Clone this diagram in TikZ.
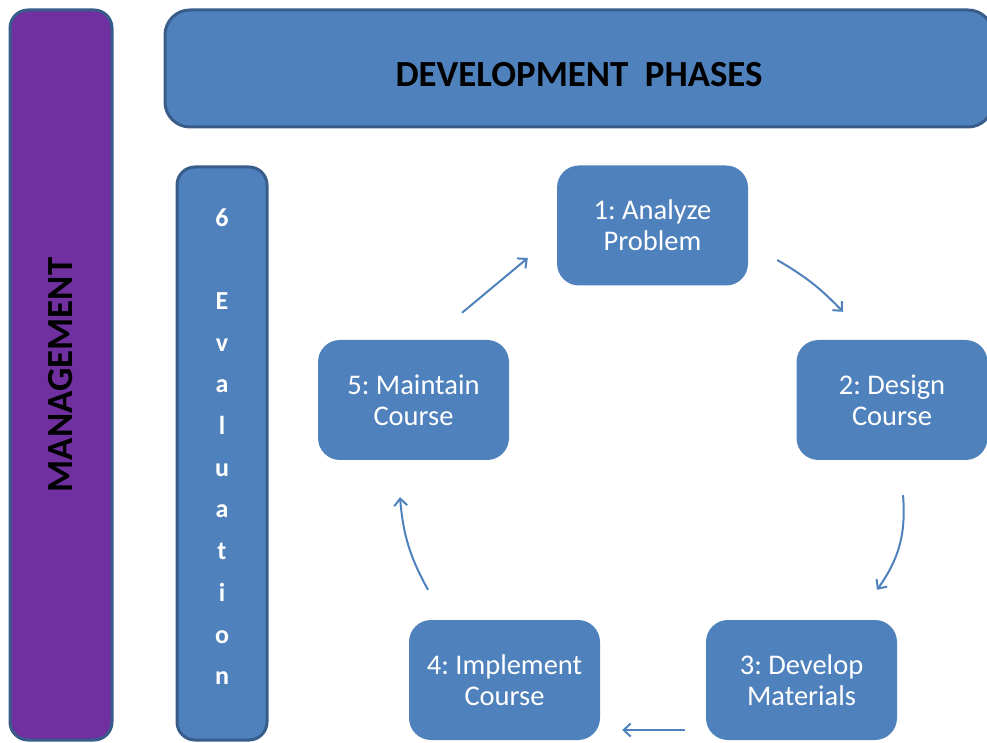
\documentclass[tikz,border=0pt]{standalone}
\usepackage{fontspec}
\setmainfont{Carlito}
\usetikzlibrary{arrows.meta}
\frenchspacing

\definecolor{phaseblue}{HTML}{4F81BD}
\definecolor{edgeblue}{HTML}{385D8A}
\definecolor{mgmtpurple}{HTML}{7030A0}

\tikzstyle{phase} = [
    rectangle,
    rounded corners=22pt,
    minimum width=191pt,
    minimum height=120pt,
    align=center,
    fill=phaseblue,
    text=white,
    font=\fontsize{28.5}{31}\selectfont
]
\tikzstyle{bar} = [
    rectangle,
    rounded corners=18pt,
    draw=edgeblue,
    line width=3pt,
    inner sep=0pt,
    font=\bfseries\fontsize{36.8}{40}\selectfont
]
\tikzstyle{arrow} = [
    line width=2pt,
    draw=phaseblue,
    -{Straight Barb[length=7pt,width=13pt]}
]

\begin{document}
\begin{tikzpicture}[x=1pt,y=1pt]
\useasboundingbox (0,0) rectangle (987,742);

% side bars
\node (mgmt)      [bar, fill=mgmtpurple, rotate=90, minimum width=730pt, minimum height=102pt] at (61,367) {MANAGEMENT};
\node (devphases) [bar, fill=phaseblue, rounded corners=25pt, minimum width=828pt, minimum height=117pt, text height=37pt] at (579,673.5) {DEVELOPMENT\ \ PHASES};
\node (eval)      [bar, fill=phaseblue, minimum width=90pt, minimum height=573pt, align=center, text=white, text depth=14pt,
                   font=\bfseries\fontsize{26}{41.7}\selectfont] at (222,288.5) {6\\[41.7pt]E\\v\\a\\l\\u\\a\\t\\i\\o\\n};

% phases
\node (analyze)   [phase] at (652.5,516.5) {1: Analyze\\Problem};
\node (design)    [phase] at (892,342)     {2: Design\\Course};
\node (develop)   [phase] at (801.5,62)    {3: Develop\\Materials};
\node (implement) [phase] at (504.5,62)    {4: Implement\\Course};
\node (maintain)  [phase] at (413.5,342)   {5: Maintain\\Course};

\draw[arrow] ([xshift=29pt,yshift=-34.5pt]analyze.east) to[bend left=8] ([xshift=-49pt,yshift=28pt]design.north);
\draw[arrow] ([xshift=11pt,yshift=-35pt]design.south) to[bend left=20] ([xshift=75.5pt,yshift=30pt]develop.north);
\draw[arrow] ([xshift=-21pt,yshift=-50pt]develop.west) -- ([xshift=22pt,yshift=-50pt]implement.east);
\draw[arrow] ([xshift=-76.5pt,yshift=30pt]implement.north) to[bend left=12] ([xshift=-13.5pt,yshift=-37pt]maintain.south);
\draw[arrow] ([xshift=48.5pt,yshift=27pt]maintain.north) -- ([xshift=-29pt,yshift=-32.5pt]analyze.west);

\end{tikzpicture}
\end{document}
